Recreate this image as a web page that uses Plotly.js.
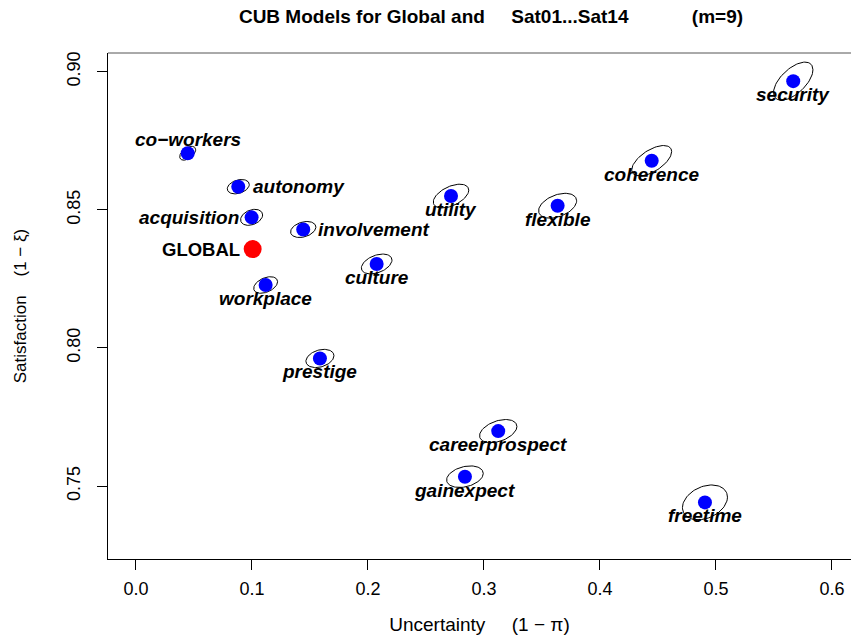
<!DOCTYPE html>
<html><head><meta charset="utf-8">
<script src="https://cdn.plot.ly/plotly-3.0.1.min.js"></script>
<style>html,body{margin:0;padding:0;background:#fff}</style>
</head><body>
<div id="chart" style="width:851px;height:641px"></div>
<script>
// ---- data ----
const items = ["security","coherence","co\u2212workers","autonomy","acquisition","involvement","workplace",
               "utility","flexible","culture","prestige","careerprospect","gainexpect","freetime"];
const uncertainty  = [0.5666,0.4446,0.0446,0.0882,0.0997,0.1442,0.1118,0.2716,0.3635,0.2075,0.1586,0.3123,0.2836,0.4905];
const satisfaction = [0.8966,0.8678,0.8705,0.8584,0.8473,0.8429,0.8228,0.8550,0.8515,0.8304,0.7962,0.7699,0.7534,0.7441];
// confidence-ellipse half extents (in axis units) and correlation
const ellHalfX = [0.0170,0.0172,0.0069,0.0095,0.0095,0.0109,0.0103,0.0153,0.0164,0.0132,0.0121,0.0161,0.0158,0.0194];
const ellHalfY = [0.0069,0.0055,0.0025,0.0026,0.0029,0.0029,0.0030,0.0043,0.0045,0.0036,0.0033,0.0042,0.0039,0.0063];
const ellRho   = [0.6,0.6,0.5,0.3,0.3,0.3,0.4,0.5,0.4,0.4,0.3,0.4,0.3,0.3];
const globalLabel = "GLOBAL";
const globalUnc = [0.1006];
const globalSat = [0.8358];
const xTickVals = [0,0.1,0.2,0.3,0.4,0.5,0.6];
const xTickText = ["0.0","0.1","0.2","0.3","0.4","0.5","0.6"];
const yTickVals = [0.75,0.80,0.85,0.90];
const yTickText = ["0.75","0.80","0.85","0.90"];

// ---- label placement (style) ----
const placeAbove = ["co\u2212workers"];
const placeRight = ["autonomy","involvement"];
const placeLeft  = ["acquisition"];

const traces = [];
// ellipses
const ex = [], ey = [];
for (let i = 0; i < items.length; i++) {
  const s = Math.sqrt(1 - ellRho[i]*ellRho[i]);
  for (let k = 0; k <= 80; k++) {
    const t = 2*Math.PI*k/80;
    ex.push(uncertainty[i] + ellHalfX[i]*Math.cos(t));
    ey.push(satisfaction[i] + ellHalfY[i]*(ellRho[i]*Math.cos(t) + s*Math.sin(t)));
  }
  ex.push(null); ey.push(null);
}
traces.push({x: ex, y: ey, mode: 'lines', line: {color: '#000', width: 1}, hoverinfo: 'skip', showlegend: false});
traces.push({x: uncertainty, y: satisfaction, mode: 'markers', marker: {color: '#0000FF', size: 14}, hoverinfo: 'skip', showlegend: false});
traces.push({x: globalUnc, y: globalSat, mode: 'markers', marker: {color: '#FF0000', size: 18}, hoverinfo: 'skip', showlegend: false});

const FAM = '"Liberation Sans", Arial, sans-serif';
const labFont = {family: FAM, size: 19, color: '#000', weight: 'bold', style: 'italic'};
const annotations = items.map((nm, i) => {
  const a = {x: uncertainty[i], y: satisfaction[i], text: nm, showarrow: false, font: labFont,
             xanchor: 'center', yanchor: 'middle', xshift: 0, yshift: -13.5};
  if (placeAbove.includes(nm)) { a.yshift = 14; }
  if (placeRight.includes(nm)) { a.xanchor = 'left'; a.xshift = 13; a.yshift = 0; }
  if (placeLeft.includes(nm))  { a.xanchor = 'right'; a.xshift = -11; a.yshift = 0; }
  return a;
});
annotations.push({x: globalUnc[0], y: globalSat[0], text: globalLabel, showarrow: false,
  font: {family: FAM, size: 18.5, color: '#000', weight: 'bold'},
  xanchor: 'right', yanchor: 'middle', xshift: -11});

const NB = '\u00A0';
const titleText = 'CUB Models for Global and' + NB.repeat(5) + 'Sat01...Sat14' + NB.repeat(12) + '(m=9)';

const tickFont = {family: FAM, size: 18, color: '#000'};
const layout = {
  width: 851, height: 641,
  margin: {l: 108, r: 0, t: 53, b: 82},
  paper_bgcolor: '#fff', plot_bgcolor: '#fff',
  title: {text: titleText, font: {family: FAM, size: 19, weight: 'bold', color: '#000'},
          x: 491/851, xref: 'container', xanchor: 'center', y: 1 - 16/641, yref: 'container', yanchor: 'middle'},
  xaxis: {range: [-0.0241, 0.6164], tickvals: xTickVals, ticktext: xTickText, ticks: 'outside', ticklen: 10,
          tickcolor: '#000', tickwidth: 1, showline: true, linecolor: '#000', linewidth: 1, showgrid: false, zeroline: false,
          tickfont: tickFont, ticklabelstandoff: 3,
          title: {text: 'Uncertainty' + NB.repeat(5) + '(1 \u2212 \u03C0)', font: {family: FAM, size: 19, color: '#000'}, standoff: 20}},
  yaxis: {range: [0.7236, 0.9068], tickvals: yTickVals, ticktext: yTickText, ticks: 'outside', ticklen: 10,
          tickcolor: '#000', tickwidth: 1, showline: true, linecolor: '#000', linewidth: 1, showgrid: false, zeroline: false,
          tickfont: tickFont, tickangle: -90, ticklabelstandoff: 10,
          title: {text: 'Satisfaction' + NB.repeat(4) + '(1 \u2212 \u03BE)', font: {family: FAM, size: 17, color: '#000'}, standoff: 32}},
  shapes: [{type: 'line', xref: 'paper', yref: 'paper', x0: 0, x1: 1, y0: 1, y1: 1, line: {color: '#555', width: 1}}],
  annotations: annotations,
  showlegend: false, hovermode: false
};
Plotly.newPlot('chart', traces, layout, {displayModeBar: false, staticPlot: true});
</script>
</body></html>
